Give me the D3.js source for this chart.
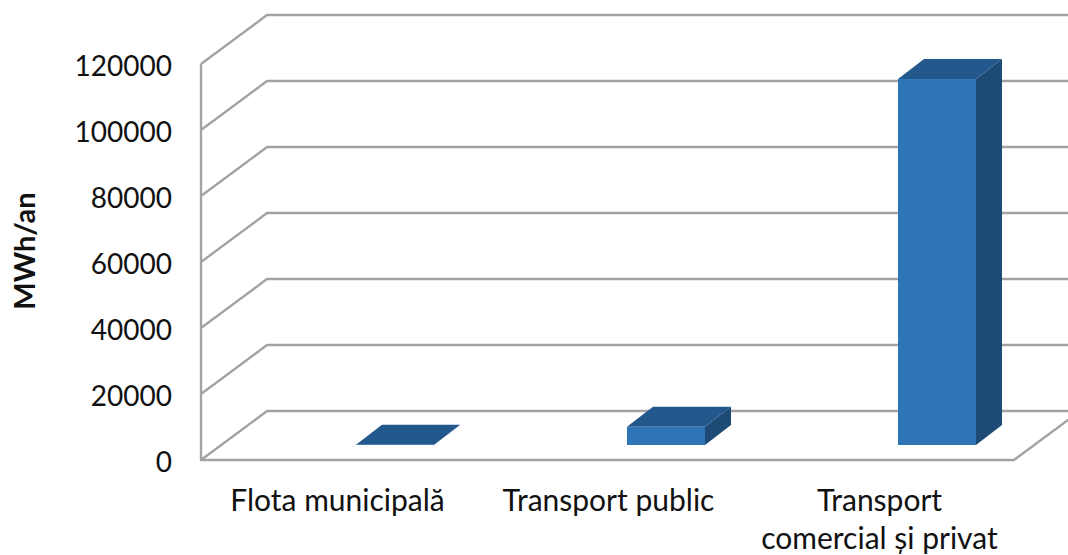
<!DOCTYPE html>
<html>
<head>
<meta charset="utf-8">
<script src="https://cdn.jsdelivr.net/npm/d3@7"></script>
<style>
  html, body { margin: 0; padding: 0; background: #fff; }
  svg { display: block; }
  text { font-family: Lato, "Open Sans", sans-serif; fill: #111; }
</style>
</head>
<body>
<div id="chart"></div>
<script>
const categories = ["Flota municipală", "Transport public", "Transport comercial și privat"];
const categoryLines = [["Flota municipală"], ["Transport public"], ["Transport", "comercial și privat"]];
const values = [100, 5500, 110900];
const yTicks = [0, 20000, 40000, 60000, 80000, 100000, 120000];

const w = 1068, h = 555;
const margin = {left: 201, floor: 460, top: 64, right: 1014};
// oblique depth of the box: back wall offset and bar offset
const depth = {x: 66, y: 49};
const barDepth = {x: 26, y: 20};
const barShift = {x: 59, y: 15};
const gridColor = "#a3a3a3";

const svg = d3.select("#chart").append("svg").attr("width", w).attr("height", h);

const xScale = d3.scaleBand().domain(categories).range([margin.left, margin.right]);
const yScale = d3.scaleLinear().domain([0, 120000]).range([margin.floor, margin.top]);
const barW = 78;

// back wall gridlines + side wall lines
const grid = svg.append("g").attr("stroke", gridColor).attr("stroke-width", 2.4).attr("fill", "none");
grid.selectAll(".back").data(yTicks).enter().append("path")
  .attr("class", "back")
  .attr("d", d => `M${margin.left},${yScale(d)}L${margin.left + depth.x},${yScale(d) - depth.y}L${w},${yScale(d) - depth.y}`);
// left wall edge and floor front edge
grid.append("path").attr("d", `M${margin.left},${margin.top}V${margin.floor}H${margin.right}L${margin.right + depth.x},${margin.floor - depth.y}`);

// bars
const bars = svg.selectAll(".bar").data(categories).enter().append("g").attr("class", "bar");
const barX = d => xScale(d) + xScale.bandwidth() / 2 + barShift.x - barW / 2 - 0.5;
const barBase = margin.floor - barShift.y;
const barTop = (d, i) => barBase - (yScale(0) - yScale(values[i]));

bars.append("path").attr("fill", "#1d4b75")
  .attr("d", (d, i) => {
    const x = barX(d) + barW, t = barTop(d, i);
    return `M${x},${t}l${barDepth.x},${-barDepth.y}V${barBase - barDepth.y}L${x},${barBase}Z`;
  });
bars.append("path").attr("fill", "#22588b")
  .attr("d", (d, i) => {
    const x = barX(d), t = barTop(d, i);
    return `M${x},${t}l${barDepth.x},${-barDepth.y}h${barW}l${-barDepth.x},${barDepth.y}Z`;
  });
bars.append("rect").attr("fill", "#2e75b6")
  .attr("x", barX)
  .attr("y", barTop)
  .attr("width", barW)
  .attr("height", (d, i) => barBase - barTop(d, i));

// y axis labels
const yAxis = svg.append("g")
  .attr("transform", `translate(${margin.left}, 0)`)
  .call(d3.axisLeft(yScale).tickValues(yTicks).tickSize(0).tickPadding(29).tickFormat(d3.format("d")));
yAxis.select(".domain").remove();
yAxis.selectAll("text").style("font-size", "28px").style("font-family", "Lato").attr("dy", "0.42em");

svg.append("text")
  .attr("transform", "translate(35, 251) rotate(-90)")
  .style("text-anchor", "middle")
  .style("font-size", "29px")
  .style("font-weight", "bold")
  .text("MWh/an");

// x labels
const xLabels = svg.selectAll(".xlabel").data(categories).enter().append("text")
  .attr("class", "xlabel")
  .style("text-anchor", "middle")
  .style("font-size", "30px");
xLabels.selectAll("tspan").data((d, i) => categoryLines[i]).enter().append("tspan")
  .attr("x", function() { const c = d3.select(this.parentNode).datum(); return xScale(c) + xScale.bandwidth() / 2 + 1; })
  .attr("y", (d, i) => 511 + i * 38)
  .text(d => d);
</script>
</body>
</html>
